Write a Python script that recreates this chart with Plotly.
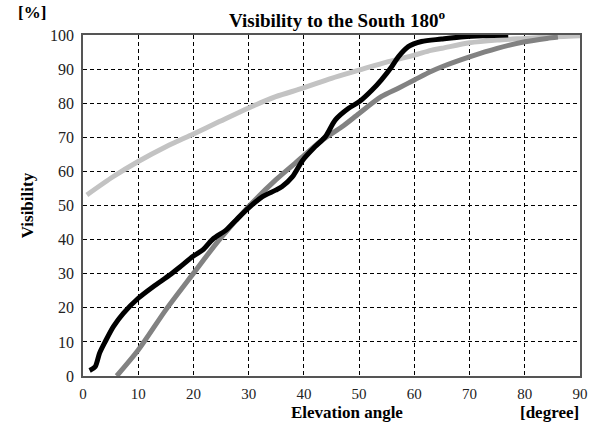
import plotly.graph_objects as go

# Black curve
black_x = [1.2, 2.2, 3.0, 4.0, 5.5, 7.3, 10, 12.7, 15.7, 17.5, 20, 21.7, 23.5, 25.9, 27.7, 30,
           32.5, 34.9, 36, 37.9, 39.8, 42, 43.9, 45.7, 48.1, 50, 52.3, 54, 55.9, 57.1, 58.9,
           61.3, 64.9, 69, 73, 77]
black_y = [1.6, 2.7, 6.7, 10, 14.5, 18.4, 22.8, 26.2, 29.6, 31.9, 35.2, 37, 40.1, 42.8, 45.7, 49.3,
           52.6, 54.5, 55.5, 58.4, 63.3, 67.2, 70.2, 75.1, 78.5, 80.4, 83.8, 86.8, 90.7, 93.6, 96.6,
           98.1, 98.8, 99.5, 99.8, 100]

# Dark gray curve
gray_x = [6.1, 10, 15, 20, 24.7, 30, 34.9, 39.8, 43.3, 46.9, 50, 54, 57.1, 60, 63, 65, 70, 75, 80, 84, 86]
gray_y = [0, 7.6, 19.4, 30.1, 40, 49.7, 57.5, 64.3, 69.2, 73.1, 77, 81.9, 84.4, 86.8, 89.3, 90.7, 93.6, 96.1, 98, 99.0, 99.4]

# Light gray curve
light_x = [0.7, 5.5, 10, 15.1, 20, 24.7, 30, 34.9, 39.8, 45, 50, 55.3, 60, 63, 65, 70, 75, 80, 84, 90]
light_y = [53.1, 58.5, 62.9, 67.3, 71.0, 74.6, 78.6, 81.9, 84.4, 87.3, 89.7, 92.2, 94.1, 95.5, 96.1, 97.7, 98.5, 99.0, 99.4, 99.8]

x_ticks = [0, 10, 20, 30, 40, 50, 60, 70, 80, 90]
y_ticks = [0, 10, 20, 30, 40, 50, 60, 70, 80, 90, 100]

SERIF = "Liberation Serif"

fig = go.Figure()
fig.add_trace(go.Scatter(x=light_x, y=light_y, mode="lines",
                         line=dict(color="#c3c3c3", width=5, shape="spline", smoothing=0.8), showlegend=False))
fig.add_trace(go.Scatter(x=gray_x, y=gray_y, mode="lines",
                         line=dict(color="#828282", width=5, shape="spline", smoothing=0.8), showlegend=False))
fig.add_trace(go.Scatter(x=black_x, y=black_y, mode="lines",
                         line=dict(color="#000000", width=5, shape="spline", smoothing=0.8), showlegend=False))

fig.update_layout(
    width=600, height=425,
    margin=dict(l=83, r=17, t=35, b=49),
    paper_bgcolor="white", plot_bgcolor="white",
    font=dict(family=SERIF, size=15, color="#222"),
    xaxis=dict(range=[0, 90], tickvals=x_ticks, showgrid=True, gridcolor="#000",
               griddash="4px,3px", gridwidth=1, showline=True, linecolor="#555", linewidth=1.5,
               mirror=True, zeroline=False, ticks="", ticklabelstandoff=3,
               tickfont=dict(family=SERIF, size=15, color="#222")),
    yaxis=dict(range=[0, 100], tickvals=y_ticks, showgrid=True, gridcolor="#000",
               griddash="4px,3px", gridwidth=1, showline=True, linecolor="#555", linewidth=1.5,
               mirror=True, zeroline=False, ticks="", ticklabelstandoff=4,
               tickfont=dict(family=SERIF, size=16, color="#222")),
    annotations=[
        dict(text="<b>Visibility to the South 180<sup>o</sup></b>", x=339, y=19,
             showarrow=False, font=dict(family=SERIF, size=19, color="#000")),
        dict(text="<b>[%]</b>", x=32, y=12, showarrow=False, font=dict(family=SERIF, size=17, color="#000")),
        dict(text="<b>Visibility</b>", x=27, y=205, textangle=-90, showarrow=False,
             font=dict(family=SERIF, size=17, color="#000")),
        dict(text="<b>Elevation angle</b>", x=349, y=413, showarrow=False,
             font=dict(family=SERIF, size=17, color="#000")),
        dict(text="<b>[degree]</b>", x=552, y=413, showarrow=False,
             font=dict(family=SERIF, size=17, color="#000")),
    ],
)

# Convert pixel positions for annotations into paper coordinates
pl, pr, pt, pb = 83, 583, 35, 376
for a in fig.layout.annotations:
    px, py = a.x, a.y
    a.xref = "paper"
    a.yref = "paper"
    a.x = (px - pl) / (pr - pl)
    a.y = (pb - py) / (pb - pt)
    a.xanchor = "center"
    a.yanchor = "middle"

fig.write_html("out.html", config={"displayModeBar": False},
               post_script="document.body.style.margin='0';document.body.style.padding='0';")
